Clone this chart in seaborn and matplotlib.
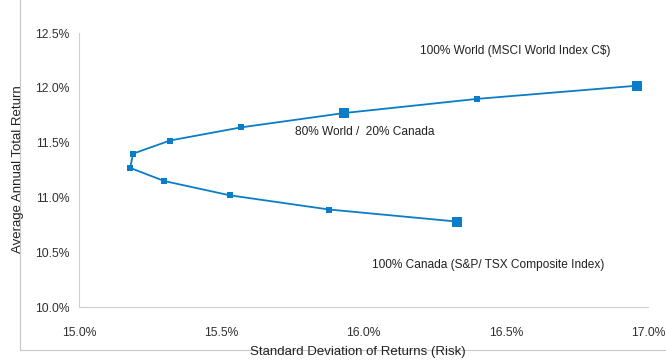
import matplotlib
matplotlib.use("Agg")
import matplotlib.pyplot as plt
import seaborn as sns
import pandas as pd
from matplotlib.ticker import FuncFormatter

# risk (std dev, %) and return (%) along the World/Canada mix frontier
risk = [16.96, 16.40, 15.93, 15.57, 15.32, 15.19, 15.18, 15.30, 15.53, 15.88, 16.33]
ret = [12.02, 11.90, 11.77, 11.64, 11.52, 11.40, 11.27, 11.15, 11.02, 10.89, 10.78]
key_idx = [0, 2, 10]  # 100% World, 80/20, 100% Canada
labels = ["100% World (MSCI World Index C$)", "80% World /  20% Canada",
          "100% Canada (S&P/ TSX Composite Index)"]

df = pd.DataFrame({"risk": risk, "ret": ret})
key = df.iloc[key_idx]

sns.set_style("white")
plt.rcParams["font.family"] = ["Liberation Sans", "DejaVu Sans"]
blue = "#0a7dc8"
txt = "#222222"

fig = plt.figure(figsize=(6.66, 3.6), dpi=100)
ax = fig.add_axes([0.1186, 0.147, 0.8544, 0.761])

sns.lineplot(data=df, x="risk", y="ret", sort=False, color=blue, lw=1.3,
             marker="s", markersize=4.5, markeredgewidth=0, ax=ax)
sns.scatterplot(data=key, x="risk", y="ret", color=blue, marker="s", s=50,
                linewidth=0, ax=ax, zorder=5)

ax.set_xlim(15.0, 17.0)
ax.set_ylim(10.0, 12.5)
ax.set_xticks([15.0, 15.5, 16.0, 16.5, 17.0])
ax.set_yticks([10.0, 10.5, 11.0, 11.5, 12.0, 12.5])
pct = FuncFormatter(lambda v, p: f"{v:.1f}%")
ax.xaxis.set_major_formatter(pct)
ax.yaxis.set_major_formatter(pct)
ax.tick_params(labelsize=8.7, colors="#303030", length=0)
ax.tick_params(axis="x", pad=14)
ax.tick_params(axis="y", pad=7)
ax.set_xlabel("")
ax.set_ylabel("")
for s in ["top", "right"]:
    ax.spines[s].set_visible(False)
for s in ["left", "bottom"]:
    ax.spines[s].set_color("#d0d0d0")
    ax.spines[s].set_linewidth(0.8)

ax.text(16.20, 12.34, labels[0], fontsize=8.6, color=txt, va="center")
ax.text(15.76, 11.60, labels[1], fontsize=8.6, color=txt, va="center")
ax.text(16.03, 10.38, labels[2], fontsize=8.6, color=txt, va="center")

fig.text(0.027, 0.53, "Average Annual Total Return", rotation=90, fontsize=9.5,
         color=txt, ha="center", va="center")
fig.text(0.537, 0.022, "Standard Deviation of Returns (Risk)", fontsize=9.5,
         color=txt, ha="center", va="center")

# outer chart frame lines
fig.add_artist(plt.Line2D([0.03, 0.03], [0.028, 1.0], color="#c8c8c8", lw=0.8))
fig.add_artist(plt.Line2D([0.03, 1.0], [0.028, 0.028], color="#c8c8c8", lw=0.8))

fig.savefig("out.png", dpi=100)
